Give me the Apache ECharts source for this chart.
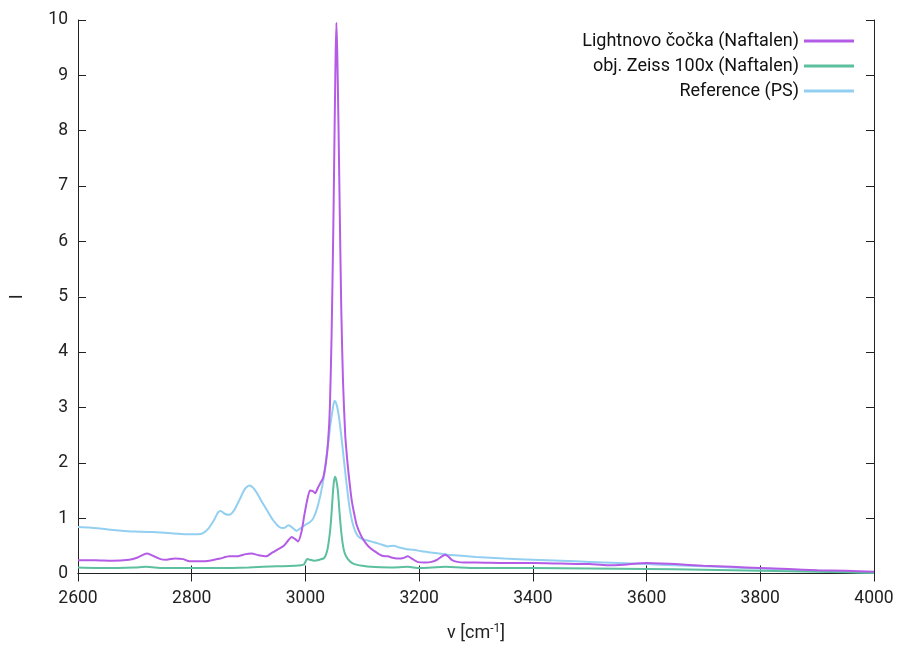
<!DOCTYPE html>
<html>
<head>
<meta charset="utf-8">
<script src="https://cdn.jsdelivr.net/npm/echarts@6/dist/echarts.min.js"></script>
<style>html,body{margin:0;padding:0;background:#fff}#c{width:900px;height:647px}</style>
</head>
<body>
<div id="c"></div>
<script>
const seriesNames = ['Lightnovo čočka (Naftalen)', 'obj. Zeiss 100x (Naftalen)', 'Reference (PS)'];
const xTicks = [2600, 2800, 3000, 3200, 3400, 3600, 3800, 4000];

const lightnovo = [
[2600,0.24],[2630,0.24],[2660,0.23],[2690,0.25],[2705,0.29],[2715,0.34],[2722,0.36],[2732,0.32],[2745,0.26],[2756,0.25],
[2770,0.27],[2785,0.26],[2796,0.22],[2815,0.22],[2831,0.23],[2850,0.27],[2866,0.31],[2880,0.31],[2895,0.35],[2905,0.36],
[2918,0.33],[2931,0.31],[2942,0.38],[2954,0.45],[2962,0.5],[2970,0.6],[2976,0.66],[2982,0.62],[2987,0.58],[2993,0.75],
[2998,1.05],[3003,1.32],[3008,1.5],[3013,1.49],[3017,1.45],[3022,1.55],[3027,1.65],[3031,1.72],[3036,2.0],[3040,2.4],
[3043,3.0],[3046,4.3],[3049,6.2],[3051,7.8],[3053,9.3],[3054.5,9.95],[3056,9.4],[3058,8.2],[3060,6.8],[3063,4.8],
[3066,3.5],[3070,2.5],[3074,2.0],[3077,1.7],[3081,1.35],[3085,1.12],[3090,0.88],[3098,0.68],[3106,0.55],[3115,0.45],
[3125,0.38],[3135,0.32],[3145,0.31],[3155,0.28],[3165,0.27],[3172,0.28],[3180,0.31],[3187,0.27],[3197,0.21],[3210,0.2],
[3222,0.21],[3232,0.25],[3240,0.31],[3246,0.34],[3252,0.3],[3258,0.24],[3267,0.21],[3280,0.2],[3300,0.2],[3350,0.19],
[3400,0.19],[3450,0.18],[3500,0.17],[3530,0.15],[3560,0.16],[3600,0.19],[3650,0.17],[3700,0.14],[3750,0.12],[3800,0.1],
[3850,0.08],[3900,0.06],[3950,0.05],[4000,0.03]
];

const zeiss = [
[2600,0.11],[2650,0.1],[2700,0.11],[2720,0.12],[2750,0.1],[2800,0.1],[2850,0.1],[2900,0.11],[2950,0.13],[2980,0.14],
[2997,0.16],[3003,0.26],[3008,0.25],[3015,0.23],[3025,0.25],[3033,0.28],[3038,0.4],[3042,0.65],[3045,0.95],[3048,1.41],
[3050,1.65],[3052,1.75],[3054,1.7],[3057,1.5],[3060,1.1],[3063,0.75],[3067,0.45],[3071,0.32],[3078,0.22],[3086,0.17],
[3100,0.14],[3115,0.12],[3150,0.11],[3180,0.12],[3200,0.1],[3246,0.12],[3300,0.1],[3400,0.1],[3500,0.09],[3600,0.08],
[3700,0.07],[3800,0.05],[3900,0.03],[4000,0.01]
];

const reference = [
[2600,0.84],[2620,0.83],[2650,0.8],[2680,0.77],[2700,0.76],[2730,0.75],[2760,0.73],[2790,0.71],[2810,0.71],[2820,0.73],
[2830,0.82],[2840,0.98],[2846,1.1],[2851,1.13],[2858,1.08],[2866,1.06],[2875,1.15],[2885,1.35],[2893,1.52],[2901,1.59],
[2908,1.55],[2915,1.45],[2922,1.32],[2932,1.15],[2942,0.98],[2954,0.84],[2962,0.82],[2970,0.87],[2977,0.83],[2984,0.77],
[2992,0.82],[3000,0.88],[3007,0.92],[3014,1.0],[3022,1.23],[3030,1.6],[3036,2.02],[3040,2.35],[3044,2.7],[3048,2.97],
[3051,3.12],[3054,3.08],[3057,2.95],[3060,2.75],[3064,2.4],[3068,2.02],[3072,1.65],[3077,1.23],[3082,0.95],[3087,0.78],
[3092,0.68],[3100,0.62],[3108,0.6],[3115,0.58],[3125,0.55],[3135,0.52],[3145,0.49],[3155,0.5],[3165,0.47],[3178,0.44],
[3190,0.43],[3205,0.4],[3220,0.38],[3235,0.36],[3250,0.34],[3300,0.3],[3350,0.27],[3400,0.25],[3450,0.23],[3500,0.21],
[3550,0.19],[3600,0.17],[3650,0.15],[3700,0.13],[3750,0.11],[3800,0.09],[3850,0.07],[3900,0.05],[3950,0.03],[4000,0.02]
];

const colors = ['#b45ce6', '#5cbf9f', '#93cff0'];
const FONT = 'Roboto';
const TXT = '#222';
const axisLine = {show: true, lineStyle: {color: '#222', width: 1}};
const tick = {show: true, inside: true, length: 8, lineStyle: {color: '#222', width: 1}};

const chart = echarts.init(document.getElementById('c'), null, {renderer: 'canvas'});
chart.setOption({
  animation: false,
  backgroundColor: '#fff',
  textStyle: {fontFamily: FONT},
  grid: {left: 76, right: 26, top: 20, bottom: 72, containLabel: false},
  legend: {
    orient: 'vertical', right: 46, top: 32, align: 'right', padding: 0,
    itemWidth: 50, itemHeight: 3, itemGap: 7, icon: 'rect',
    textStyle: {fontFamily: FONT, fontSize: 18, color: '#111'},
    data: seriesNames
  },
  xAxis: [{
    type: 'value', min: 2600, max: 4000, interval: 200,
    axisLine: axisLine, axisTick: tick, splitLine: {show: false},
    axisLabel: {margin: 16, fontSize: 17.5, color: TXT, fontFamily: FONT, formatter: v => xTicks.includes(v) ? String(v) : ''},
    name: '{a|v [cm}{s|-1}{a|]}', nameLocation: 'middle', nameGap: 49,
    nameTextStyle: {rich: {a: {fontSize: 18, color: TXT, fontFamily: FONT}, s: {fontSize: 12, color: TXT, fontFamily: FONT, padding: [0, 0, 9, 0]}}}
  }, {
    type: 'value', min: 2600, max: 4000, interval: 200, position: 'top',
    axisLine: axisLine, axisTick: tick, splitLine: {show: false}, axisLabel: {show: false}
  }],
  yAxis: [{
    type: 'value', min: 0, max: 10, interval: 1,
    axisLine: axisLine, axisTick: tick, splitLine: {show: false},
    axisLabel: {margin: 10, fontSize: 17.5, color: TXT, fontFamily: FONT},
    name: 'I', nameLocation: 'middle', nameGap: 52, nameRotate: 90,
    nameTextStyle: {fontSize: 18, color: TXT, fontFamily: FONT}
  }, {
    type: 'value', min: 0, max: 10, interval: 1, position: 'right',
    axisLine: axisLine, axisTick: tick, splitLine: {show: false}, axisLabel: {show: false}
  }],
  series: [
    {name: seriesNames[0], type: 'line', data: lightnovo, showSymbol: false, smooth: 0.2, color: colors[0], lineStyle: {width: 2}, z: 3},
    {name: seriesNames[1], type: 'line', data: zeiss, showSymbol: false, smooth: 0.2, color: colors[1], lineStyle: {width: 2}, z: 2},
    {name: seriesNames[2], type: 'line', data: reference, showSymbol: false, smooth: 0.2, color: colors[2], lineStyle: {width: 2}, z: 1}
  ]
});
</script>
</body>
</html>
